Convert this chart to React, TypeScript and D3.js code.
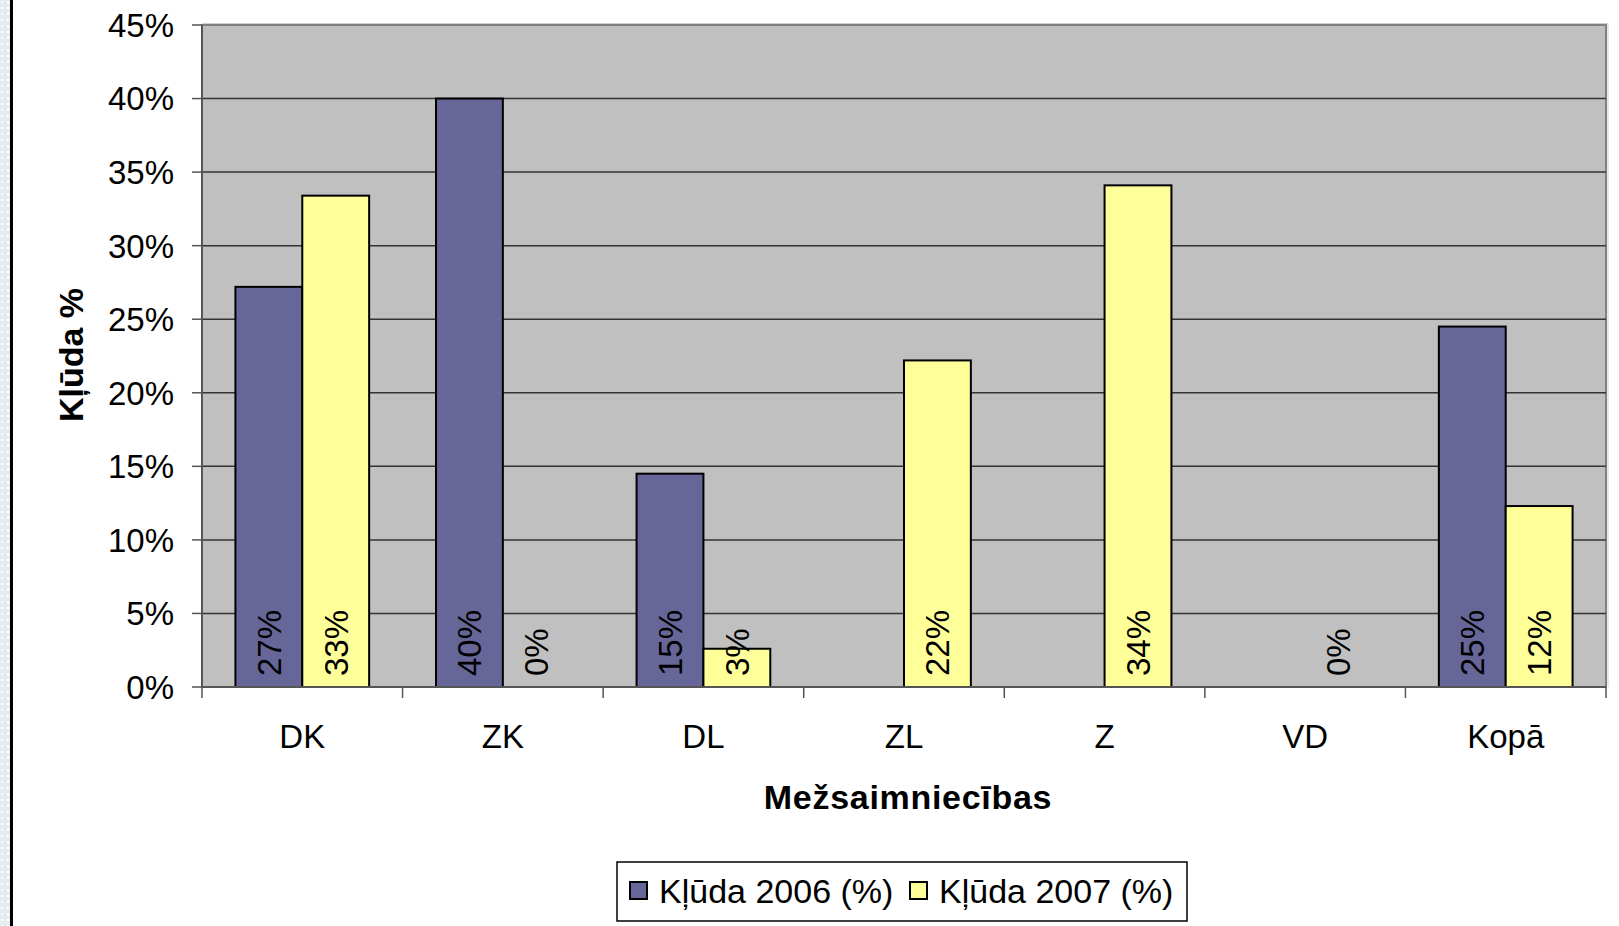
import React from "react";
import * as d3 from "d3";

const categories = ["DK", "ZK", "DL", "ZL", "Z", "VD", "Kopā"];
const series2006: (number | null)[] = [27.2, 40.0, 14.5, null, null, null, 24.5];
const series2007: (number | null)[] = [33.4, 0, 2.6, 22.2, 34.1, 0, 12.3];
const seriesNames = ["Kļūda 2006 (%)", "Kļūda 2007 (%)"];
const seriesColors = ["#666699", "#FFFF99"];
const yTicks = [0, 5, 10, 15, 20, 25, 30, 35, 40, 45];

const W = 1619;
const H = 926;
const plot = { left: 202, top: 25, right: 1606, bottom: 687 };
const FONT = "'Liberation Sans', Arial, sans-serif";

export default function App() {
  const x = d3
    .scaleBand<string>()
    .domain(categories)
    .range([plot.left, plot.right])
    .paddingInner(0)
    .paddingOuter(0);
  const y = d3.scaleLinear().domain([0, 45]).range([plot.bottom, plot.top]);
  const band = x.bandwidth();
  const barW = band / 3;
  const allSeries = [series2006, series2007];
  const legendX = [630, 910];

  return (
    <svg
      width={W}
      height={H}
      style={{ position: "absolute", left: 0, top: 0, background: "#fff" }}
      fontFamily={FONT}
    >
      <defs>
        <pattern id="dots" width="6" height="6" patternUnits="userSpaceOnUse">
          <rect width="6" height="6" fill="#e4ecf0" />
          <rect x="1" y="1" width="2" height="2" fill="#ffffff" />
        </pattern>
      </defs>
      {/* left decorative strip */}
      <rect x={0} y={0} width={10} height={H} fill="url(#dots)" />
      <line x1={11.5} x2={11.5} y1={0} y2={H} stroke="#000" strokeWidth={3} />

      {/* plot area */}
      <rect
        x={plot.left}
        y={plot.top}
        width={plot.right - plot.left}
        height={plot.bottom - plot.top}
        fill="#C0C0C0"
        stroke="#808080"
        strokeWidth={2}
      />
      <line x1={plot.left} x2={plot.right + 2} y1={plot.top - 1.5} y2={plot.top - 1.5} stroke="#d0d0d0" strokeWidth={1} />
      <line x1={plot.right + 2} x2={plot.right + 2} y1={plot.top - 1.5} y2={plot.bottom} stroke="#d0d0d0" strokeWidth={1} />

      {/* gridlines */}
      {yTicks.slice(1, -1).map((t) => (
        <line
          key={"g" + t}
          x1={plot.left}
          x2={plot.right}
          y1={y(t)}
          y2={y(t)}
          stroke="#333"
          strokeWidth={1.5}
        />
      ))}

      {/* bars */}
      {allSeries.map((s, si) =>
        s.map((v, i) => {
          if (v === null || v === 0) return null;
          const bx = (x(categories[i]) as number) + barW / 2 + si * barW;
          return (
            <rect
              key={`b${si}-${i}`}
              x={bx}
              y={y(v)}
              width={barW}
              height={y(0) - y(v)}
              fill={seriesColors[si]}
              stroke="#000"
              strokeWidth={2}
            />
          );
        })
      )}

      {/* axes */}
      <line x1={plot.left} x2={plot.left} y1={plot.top} y2={plot.bottom} stroke="#555" strokeWidth={2} />
      <line x1={plot.left} x2={plot.right} y1={plot.bottom} y2={plot.bottom} stroke="#555" strokeWidth={2} />
      {yTicks.map((t) => (
        <g key={"yt" + t}>
          <line x1={plot.left - 10} x2={plot.left} y1={y(t)} y2={y(t)} stroke="#555" strokeWidth={1.5} />
          <text x={174} y={y(t)} dy="0.36em" textAnchor="end" fontSize={33} fill="#000">
            {t + "%"}
          </text>
        </g>
      ))}
      {categories.concat(["__end"]).map((c, i) => {
        const tx = plot.left + i * band;
        return (
          <line key={"xt" + i} x1={tx} x2={tx} y1={plot.bottom} y2={plot.bottom + 11} stroke="#555" strokeWidth={1.5} />
        );
      })}
      {categories.map((c) => (
        <text
          key={"xl" + c}
          x={(x(c) as number) + band / 2}
          y={748}
          textAnchor="middle"
          fontSize={33}
          fill="#000"
        >
          {c}
        </text>
      ))}

      {/* data labels */}
      {allSeries.map((s, si) =>
        s.map((v, i) => {
          if (v === null) return null;
          const cx = (x(categories[i]) as number) + barW / 2 + si * barW + barW / 2;
          const by = plot.bottom - 11;
          return (
            <text
              key={`l${si}-${i}`}
              transform={`translate(${cx},${by}) rotate(-90)`}
              dy="0.36em"
              textAnchor="start"
              fontSize={33}
              fill="#000"
            >
              {Math.round(v) + "%"}
            </text>
          );
        })
      )}

      {/* axis titles */}
      <text
        x={908}
        y={809}
        textAnchor="middle"
        fontSize={34}
        fontWeight="bold"
        letterSpacing={0.7}
      >
        Mežsaimniecības
      </text>
      <text
        transform={`translate(71,355) rotate(-90)`}
        dy="0.36em"
        textAnchor="middle"
        fontSize={34}
        fontWeight="bold"
      >
        Kļūda %
      </text>

      {/* legend */}
      <rect x={617} y={862} width={570} height={59} fill="#fff" stroke="#000" strokeWidth={1.5} />
      {seriesNames.map((n, i) => {
        const lx = legendX[i];
        return (
          <g key={"lg" + i}>
            <rect x={lx} y={882} width={17} height={17} fill={seriesColors[i]} stroke="#000" strokeWidth={2} />
            <text x={lx + 29} y={903} fontSize={34} fill="#000">
              {n}
            </text>
          </g>
        );
      })}
    </svg>
  );
}
